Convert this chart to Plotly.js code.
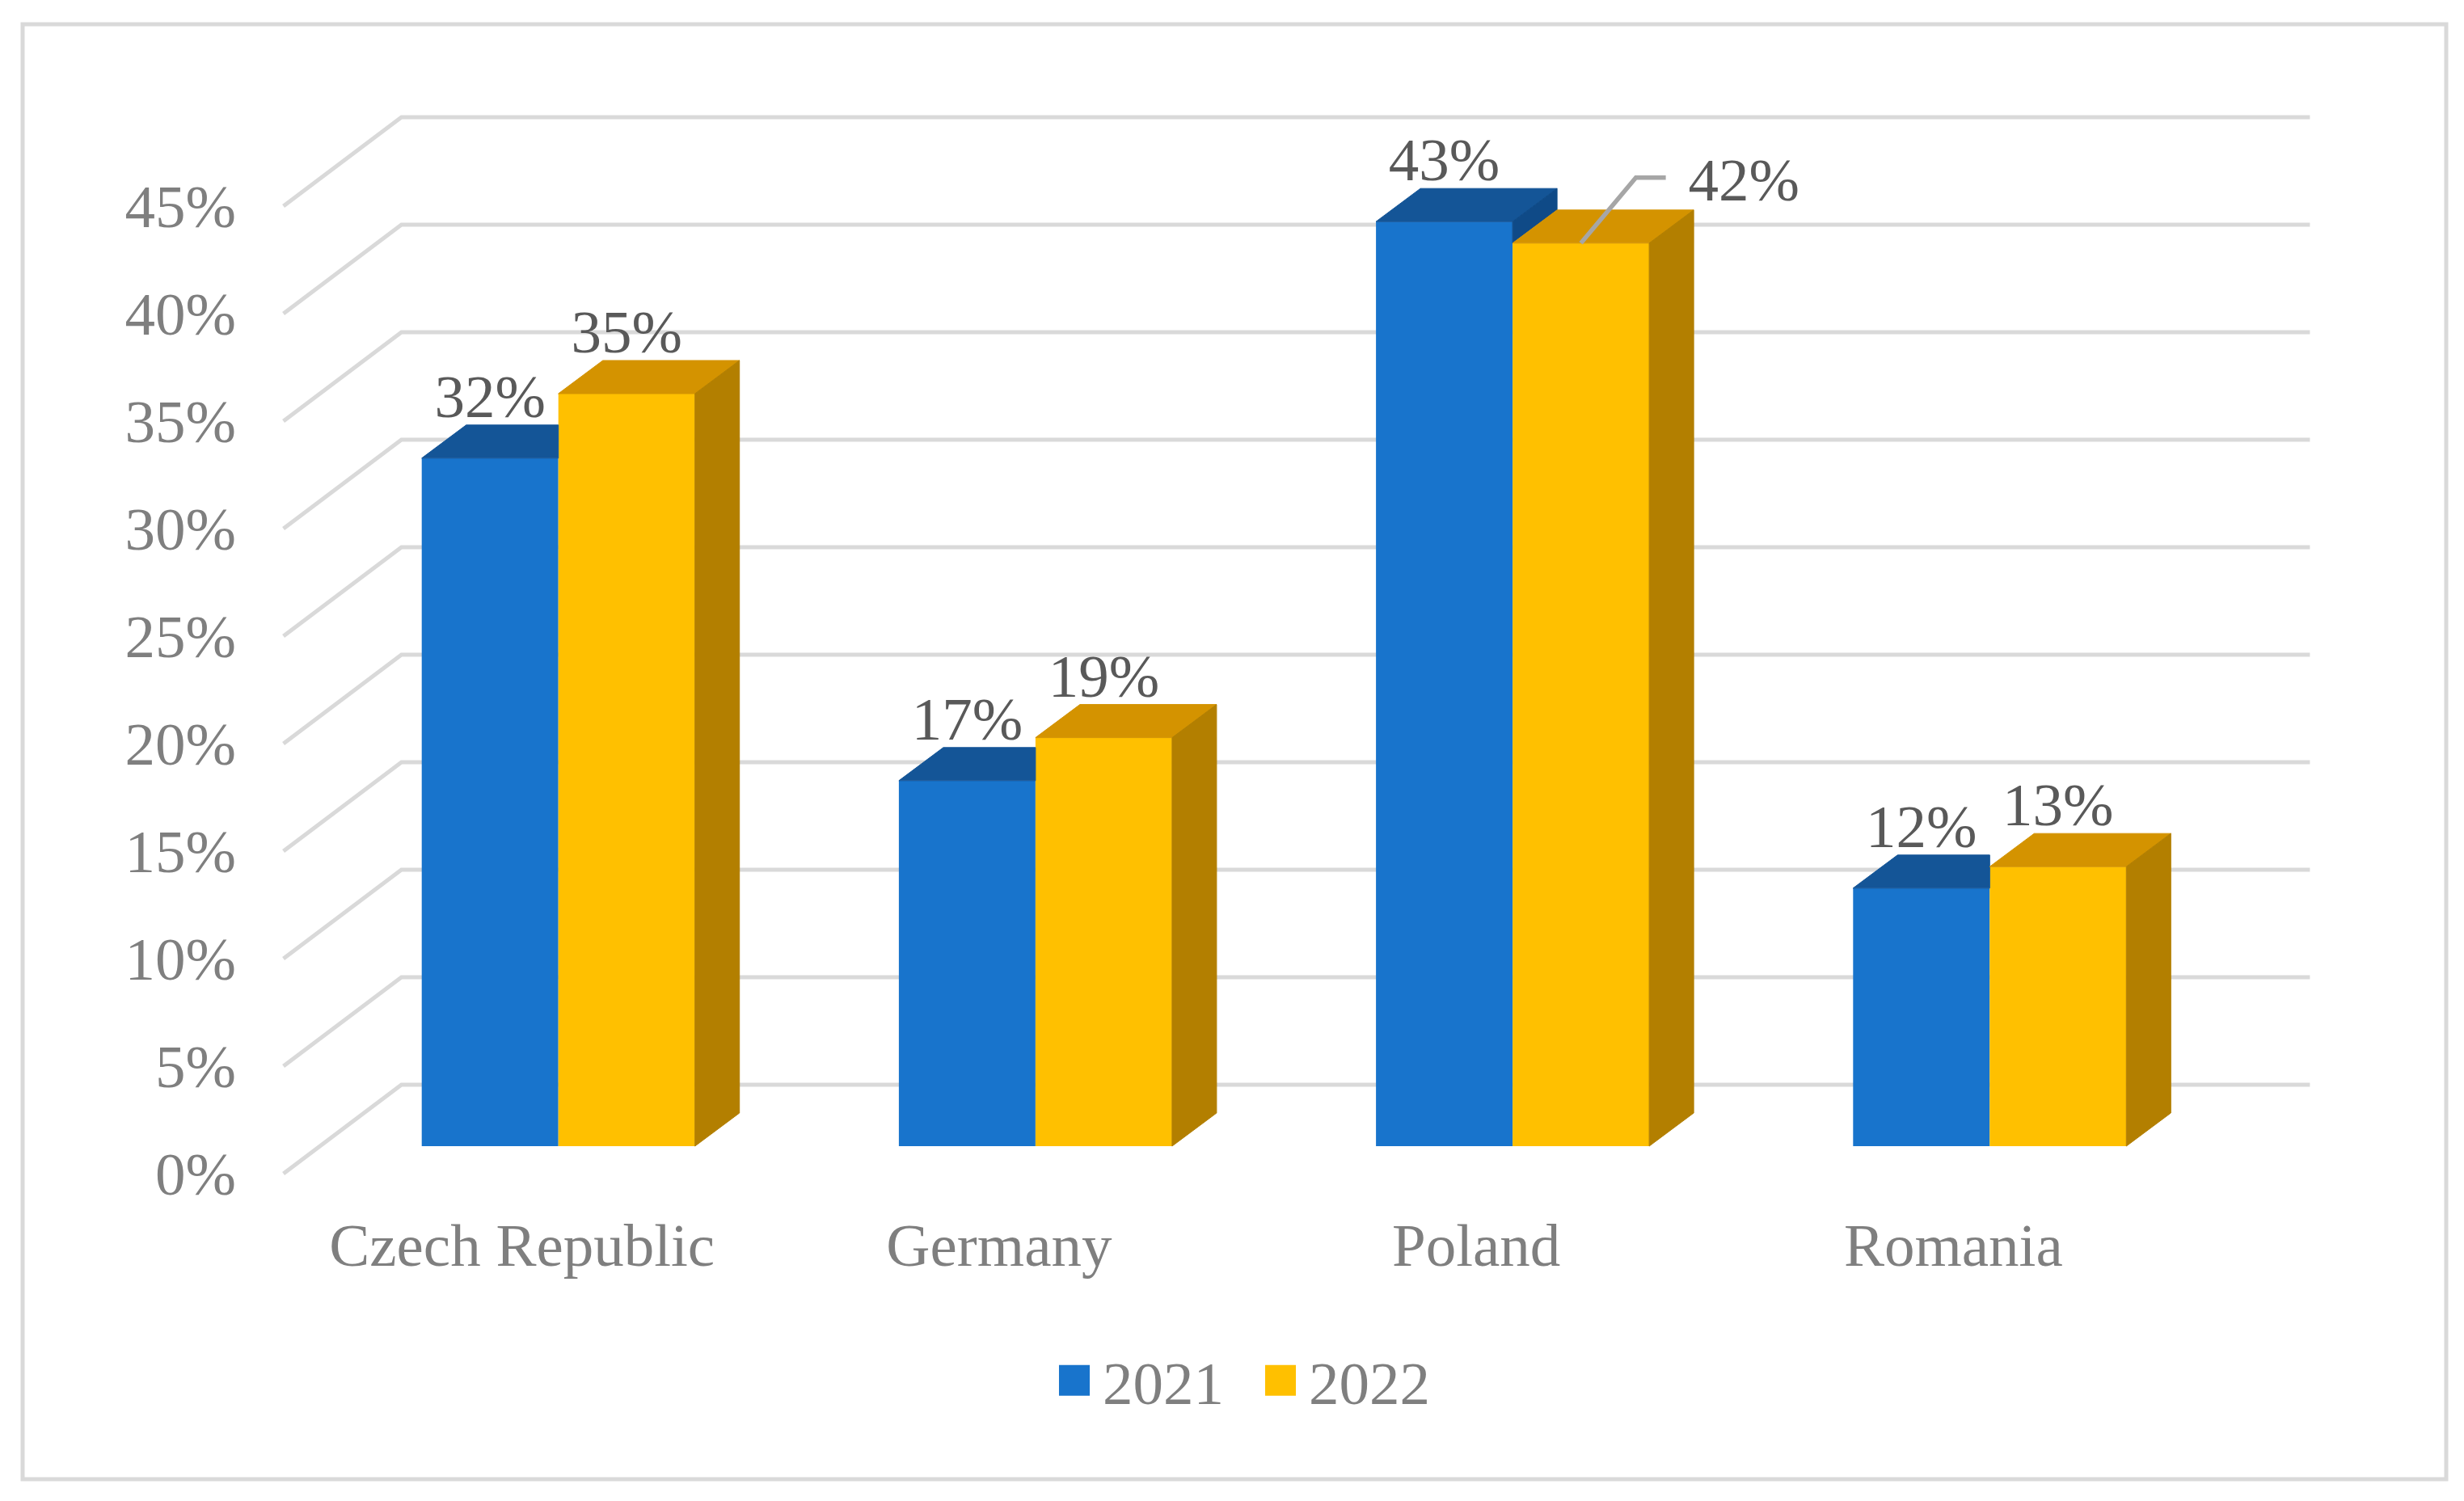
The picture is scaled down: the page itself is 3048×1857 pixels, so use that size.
<!DOCTYPE html>
<html>
<head>
<meta charset="utf-8">
<script src="https://cdn.plot.ly/plotly-3.0.1.min.js"></script>
<style>
html,body{margin:0;padding:0;background:#ffffff;}
#chart{width:3048px;height:1857px;}
</style>
</head>
<body>
<div id="chart"></div>
<script>
// ---------- data ----------
const categories = ['Czech Republic', 'Germany', 'Poland', 'Romania'];
const seriesNames = ['2021', '2022'];
const values2021 = [32, 17, 43, 12];
const values2022 = [35, 19, 42, 13];
const yTickValues = [0, 5, 10, 15, 20, 25, 30, 35, 40, 45];
const yTickLabels = yTickValues.map(v => v + '%');

// ---------- style ----------
const W = 3048, H = 1857;
const FONT = 'Liberation Serif, Times New Roman, serif';
const FONT_SIZE = 75;
const AXIS_TEXT = '#7f7f7f';
const LABEL_TEXT = '#595959';
const GRID = '#d9d9d9';
const COLORS = {
  '2021': {front: '#1874CC', top: '#145597', side: '#0F4A87'},
  '2022': {front: '#FFC000', top: '#D49300', side: '#B37F00'}
};

// geometry helpers (pixel sizes converted into axis units)
const CAT_PX = 590.2, PCT_PX = 26.6, CAT0_PX = 690.7, BASE_PX = 1418;
const ux = p => p / CAT_PX, uy = p => p / PCT_PX;
const xRange = [-CAT0_PX / CAT_PX, (W - CAT0_PX) / CAT_PX];
const yRange = [-(H - BASE_PX) / PCT_PX, BASE_PX / PCT_PX];
const BAR_W = ux(169);
const DEPTH = {x: ux(55), y: uy(41)};
const FRONT = {x: ux(-45), y: uy(-34)};
const BACK = {x: ux(101), y: uy(76)};
const LABEL_DROP = uy(9);

const idx = categories.map((c, i) => i);
const xL = -0.5, xR = categories.length - 0.5;

// ---------- shapes: back wall + floor gridlines, outer frame ----------
const shapes = yTickValues.map(v => ({
  type: 'path', xref: 'x', yref: 'y', layer: 'below',
  path: 'M' + (xL + FRONT.x) + ',' + (v + FRONT.y) +
        ' L' + (xL + BACK.x) + ',' + (v + BACK.y) +
        ' L' + (xR + BACK.x) + ',' + (v + BACK.y),
  line: {color: GRID, width: 5}
}));
shapes.push({
  type: 'rect', xref: 'paper', yref: 'paper', layer: 'below',
  x0: 28 / W, x1: 3026 / W, y0: 1 - 1830 / H, y1: 1 - 30 / H,
  line: {color: GRID, width: 5}, fillcolor: 'rgba(0,0,0,0)'
});

// ---------- traces ----------
const traces = [];
// front faces (real bars)
traces.push({
  type: 'bar', name: seriesNames[0], x: idx, y: values2021,
  width: BAR_W, offset: -BAR_W, marker: {color: COLORS['2021'].front, line: {width: 0}},
  hoverinfo: 'skip'
});
traces.push({
  type: 'bar', name: seriesNames[1], x: idx, y: values2022,
  width: BAR_W, offset: 0, marker: {color: COLORS['2022'].front, line: {width: 0}},
  hoverinfo: 'skip'
});

function face(pts, color) {
  const xs = pts.map(p => p[0]), ys = pts.map(p => p[1]);
  xs.push(xs[0]); ys.push(ys[0]);
  return {type: 'scatter', mode: 'lines', x: xs, y: ys, fill: 'toself',
          fillcolor: color, line: {width: 1, color: color},
          hoverinfo: 'skip', showlegend: false};
}

idx.forEach(i => {
  const a = values2021[i], b = values2022[i];
  // 2021 top face
  if (a < b) {
    traces.push(face([[i - BAR_W, a], [i, a], [i, a + DEPTH.y], [i - BAR_W + DEPTH.x, a + DEPTH.y]], COLORS['2021'].top));
  } else {
    traces.push(face([[i - BAR_W, a], [i, a], [i + DEPTH.x, a + DEPTH.y], [i - BAR_W + DEPTH.x, a + DEPTH.y]], COLORS['2021'].top));
    // visible part of the 2021 side face
    traces.push(face([[i, b], [i, a], [i + DEPTH.x, a + DEPTH.y], [i + DEPTH.x, b + DEPTH.y]], COLORS['2021'].side));
  }
  // 2022 top & side faces
  traces.push(face([[i, b], [i + BAR_W, b], [i + BAR_W + DEPTH.x, b + DEPTH.y], [i + DEPTH.x, b + DEPTH.y]], COLORS['2022'].top));
  traces.push(face([[i + BAR_W, 0], [i + BAR_W, b], [i + BAR_W + DEPTH.x, b + DEPTH.y], [i + BAR_W + DEPTH.x, DEPTH.y]], COLORS['2022'].side));
});

// data labels
const callout = {series: 1, index: 2}; // label moved aside with a leader line (Poland 2022)
const labelFont = {family: FONT, size: FONT_SIZE, color: LABEL_TEXT};
[values2021, values2022].forEach((vals, s) => {
  const xs = [], ys = [], tx = [];
  vals.forEach((v, i) => {
    if (s === callout.series && i === callout.index) return;
    xs.push(s === 0 ? i - BAR_W / 2 : i + BAR_W / 2);
    ys.push(v + DEPTH.y - LABEL_DROP);
    tx.push(v + '%');
  });
  traces.push({type: 'scatter', mode: 'text', x: xs, y: ys, text: tx,
               textposition: 'top center', textfont: labelFont,
               hoverinfo: 'skip', showlegend: false, cliponaxis: false});
});
// callout leader line + label
(function () {
  const vals = callout.series === 0 ? values2021 : values2022;
  const v = vals[callout.index];
  const cx = callout.series === 0 ? callout.index - BAR_W / 2 : callout.index + BAR_W / 2;
  traces.push({type: 'scatter', mode: 'lines',
    x: [cx, cx + ux(68), cx + ux(105)],
    y: [v, v + uy(81), v + uy(81)],
    line: {color: '#a6a6a6', width: 5.5}, hoverinfo: 'skip', showlegend: false});
  traces.push({type: 'scatter', mode: 'text',
    x: [cx + ux(133)], y: [v + uy(72)], text: [v + '%'],
    textposition: 'middle right', textfont: labelFont,
    hoverinfo: 'skip', showlegend: false, cliponaxis: false});
})();

const layout = {
  width: W, height: H,
  margin: {l: 0, r: 0, t: 0, b: 0, pad: 0},
  paper_bgcolor: '#ffffff', plot_bgcolor: 'rgba(0,0,0,0)',
  showlegend: true,
  barmode: 'overlay',
  font: {family: FONT, size: FONT_SIZE, color: AXIS_TEXT},
  xaxis: {
    range: xRange, domain: [0, 1], anchor: 'free', position: 1 - 1490 / H,
    showgrid: false, zeroline: false, showline: false, ticks: '',
    tickmode: 'array', tickvals: idx.map(i => i + FRONT.x), ticktext: categories,
    tickfont: {family: FONT, size: FONT_SIZE, color: AXIS_TEXT}
  },
  yaxis: {
    range: yRange, domain: [0, 1], anchor: 'free', position: 292 / W,
    showgrid: false, zeroline: false, showline: false, ticks: '',
    tickmode: 'array', tickvals: yTickValues.map(v => v + FRONT.y), ticktext: yTickLabels,
    tickfont: {family: FONT, size: FONT_SIZE, color: AXIS_TEXT}
  },
  legend: {
    orientation: 'h', x: 1549 / W, xanchor: 'center', y: 1 - 1708 / H, yanchor: 'middle',
    font: {family: FONT, size: FONT_SIZE, color: AXIS_TEXT},
    bgcolor: 'rgba(0,0,0,0)', itemwidth: 60, entrywidth: 180, entrywidthmode: 'pixels',
    traceorder: 'normal'
  },
  shapes: shapes
};

const gd = document.getElementById('chart');
function enlargeLegendSymbols() {
  gd.querySelectorAll('.legend .legendpoints path').forEach(p => {
    const t = p.getAttribute('transform') || '';
    if (t.indexOf('scale') === -1) p.setAttribute('transform', t + ' scale(3.17)');
  });
}
Plotly.newPlot(gd, traces, layout, {staticPlot: true, displayModeBar: false}).then(() => {
  enlargeLegendSymbols();
  gd.on('plotly_afterplot', enlargeLegendSymbols);
});
</script>
</body>
</html>
